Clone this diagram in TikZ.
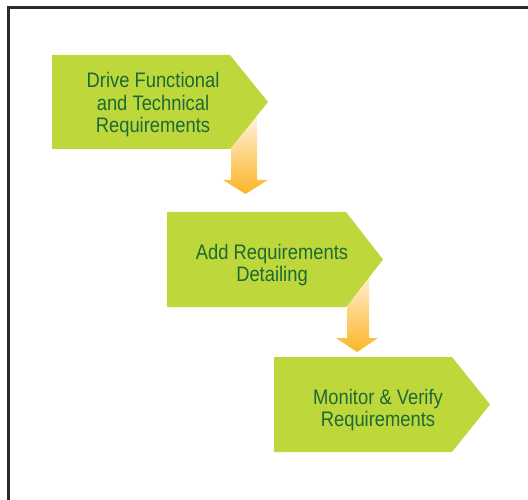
\documentclass[tikz,border=0pt]{standalone}
\usepackage{fontspec}
\setmainfont{Liberation Sans}[FakeStretch=0.875]
\definecolor{boxgreen}{HTML}{BED73B}
\definecolor{txtgreen}{HTML}{1B6A37}
\definecolor{framegray}{HTML}{2A2A2A}
\definecolor{arrowtop}{HTML}{FFF6E4}
\definecolor{arrowbot}{HTML}{FDB526}
\tikzset{
  boxshape/.style={fill=boxgreen},
  boxtext/.style={text=txtgreen, align=center, inner sep=0pt,
    font=\fontsize{21}{22.5}\selectfont},
  blockarrow/.style={top color=arrowtop, bottom color=arrowbot, draw=none},
  frameline/.style={draw=framegray, line width=3pt}
}
\begin{document}
\begin{tikzpicture}[x=1pt,y=-1pt]
\useasboundingbox (0,0) rectangle (528,500);
% frame
\coordinate (fTL) at (8.5,7.5);
\coordinate (fTR) at (528,7.5);
\coordinate (fBL) at (8.5,500);
\draw[frameline] (fTR) -- (7,7.5);
\draw[frameline] (fBL) -- (8.5,6);
% arrows (behind boxes)
\shade[blockarrow] (231,112) -- (257,112) -- (257,180) -- (268,180) -- (245.5,194) -- (223,180) -- (231,180) -- cycle;
\shade[blockarrow] (347,268) -- (369,268) -- (369,338) -- (378,338) -- (357,352) -- (336,338) -- (347,338) -- cycle;
% boxes
\fill[boxshape] (52,55) -- (230,55) -- (268,102) -- (230,149) -- (52,149) -- cycle;
\fill[boxshape] (167,212) -- (346,212) -- (383,259.5) -- (346,307) -- (167,307) -- cycle;
\fill[boxshape] (274,357) -- (452,357) -- (490,404.5) -- (452,452) -- (274,452) -- cycle;
% texts
\node[boxtext] (t1) at (153,105) {Drive Functional\\and Technical\\Requirements};
\node[boxtext] (t2) at (272,265) {Add Requirements\\Detailing};
\node[boxtext] (t3) at (378,410) {Monitor \& Verify\\Requirements};
\end{tikzpicture}
\end{document}
